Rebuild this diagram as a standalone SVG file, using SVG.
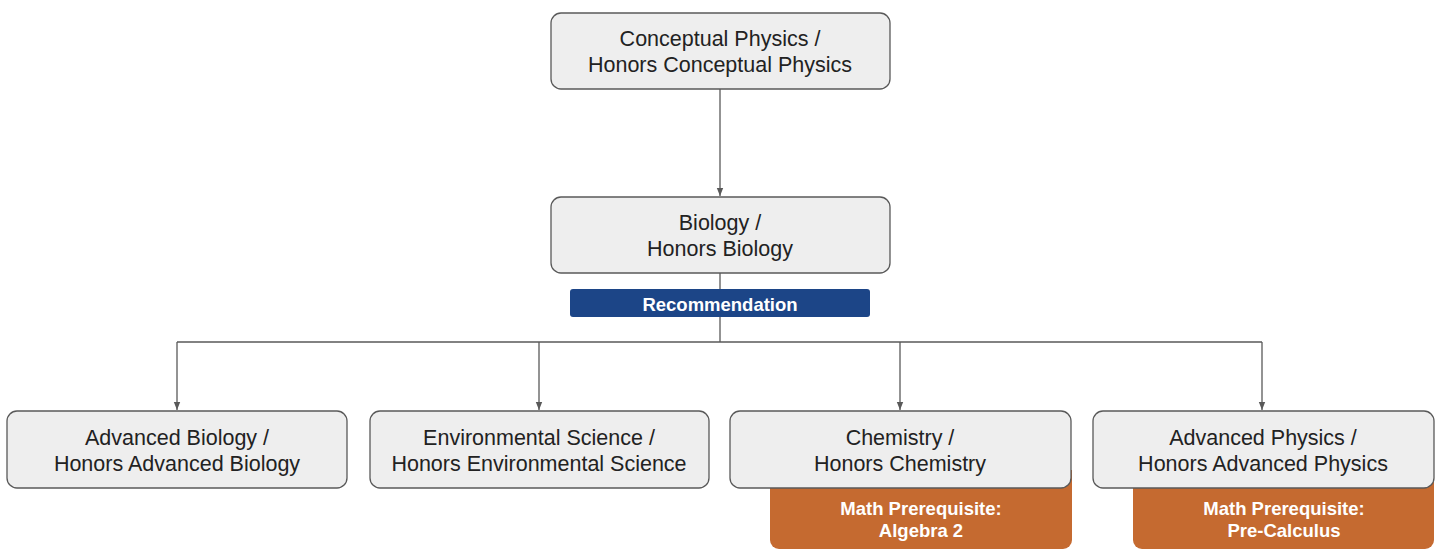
<svg xmlns="http://www.w3.org/2000/svg" width="1440" height="551" viewBox="0 0 1440 551">
<style>
.box{fill:#eeeeee;stroke:#595959;stroke-width:1.3}
.prereq{fill:#c56a30}
.t{font-family:"Liberation Sans",Arial,sans-serif;font-size:21.5px;fill:#222222;text-anchor:middle}
.w{font-family:"Liberation Sans",Arial,sans-serif;font-size:18.5px;font-weight:bold;fill:#ffffff;text-anchor:middle}
.c{fill:none;stroke:#595959;stroke-width:1.3}
</style>
<defs>
<marker id="ah" viewBox="0 0 10 10" refX="10" refY="5" markerWidth="8" markerHeight="8" markerUnits="userSpaceOnUse" orient="auto">
<path d="M0,1 L10,5 L0,9 z" fill="#595959"/>
</marker>
</defs>
<rect width="1440" height="551" fill="#ffffff"/>
<g id="connectors">
<path class="c" d="M720,89 V196" marker-end="url(#ah)"/>
<path class="c" d="M720,273 V342"/>
<path class="c" d="M177,342 H1262"/>
<path class="c" d="M177,342 V410" marker-end="url(#ah)"/>
<path class="c" d="M539,342 V410" marker-end="url(#ah)"/>
<path class="c" d="M900,342 V410" marker-end="url(#ah)"/>
<path class="c" d="M1262,342 V410" marker-end="url(#ah)"/>
</g>
<g id="node-conceptual">
<rect class="box" x="551" y="13" width="339" height="76" rx="10"/>
<text class="t" x="720" y="45.5">Conceptual Physics /</text>
<text class="t" x="720" y="71.5">Honors Conceptual Physics</text>
</g>
<g id="node-biology">
<rect class="box" x="551" y="197" width="339" height="76" rx="10"/>
<text class="t" x="720" y="229.5">Biology /</text>
<text class="t" x="720" y="255.5">Honors Biology</text>
</g>
<g id="label-recommendation">
<rect x="570" y="289" width="300" height="28" rx="3" fill="#1c4587"/>
<text class="w" x="720" y="310.5">Recommendation</text>
</g>
<g id="node-advbio">
<rect class="box" x="7" y="411" width="340" height="77" rx="10"/>
<text class="t" x="177" y="445">Advanced Biology /</text>
<text class="t" x="177" y="471">Honors Advanced Biology</text>
</g>
<g id="node-envsci">
<rect class="box" x="370" y="411" width="339" height="77" rx="10"/>
<text class="t" x="539" y="445">Environmental Science /</text>
<text class="t" x="539" y="471">Honors Environmental Science</text>
</g>
<g id="node-chem">
<path class="prereq" d="M770,470 H1072 V540 a9,9 0 0 1 -9,9 H779 a9,9 0 0 1 -9,-9 Z"/>
<text class="w" x="921" y="514.5">Math Prerequisite:</text>
<text class="w" x="921" y="537">Algebra 2</text>
<rect class="box" x="730" y="411" width="341" height="77" rx="10"/>
<text class="t" x="900" y="445">Chemistry /</text>
<text class="t" x="900" y="471">Honors Chemistry</text>
</g>
<g id="node-advphys">
<path class="prereq" d="M1133,470 H1434 V540 a9,9 0 0 1 -9,9 H1142 a9,9 0 0 1 -9,-9 Z"/>
<text class="w" x="1284" y="514.5">Math Prerequisite:</text>
<text class="w" x="1284" y="537">Pre-Calculus</text>
<rect class="box" x="1093" y="411" width="341" height="77" rx="10"/>
<text class="t" x="1263" y="445">Advanced Physics /</text>
<text class="t" x="1263" y="471">Honors Advanced Physics</text>
</g>
</svg>
